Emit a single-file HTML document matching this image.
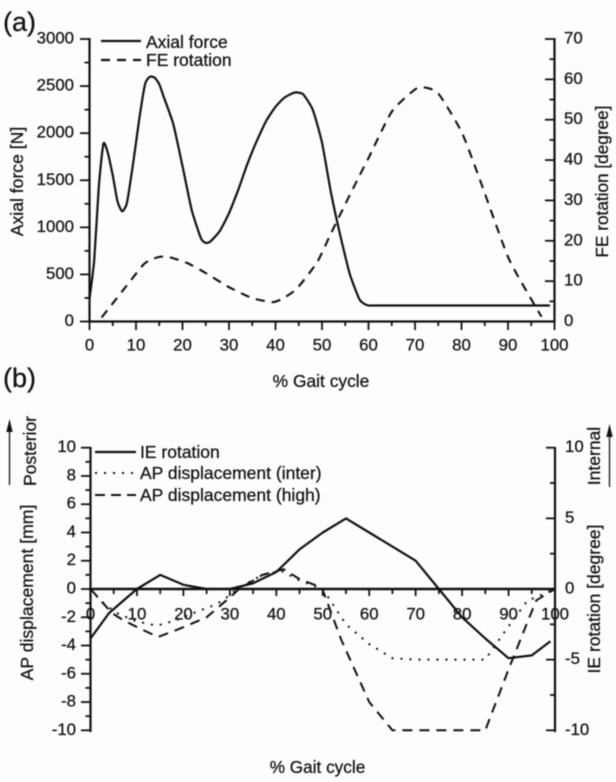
<!DOCTYPE html>
<html>
<head>
<meta charset="utf-8">
<style>
html,body{margin:0;padding:0;background:#fdfdfd;}
svg{display:block;filter:blur(0.4px);}
text{font-family:"Liberation Sans",Arial,sans-serif;fill:#111;stroke:#111;stroke-width:0.25px;}
</style>
</head>
<body>
<svg id="figure" xmlns="http://www.w3.org/2000/svg" width="616" height="782" viewBox="0 0 616 782"></svg>
<script>
// Panel (a) data
const xTickLabelsA = [0,10,20,30,40,50,60,70,80,90,100];
const forceTickLabels = [0,500,1000,1500,2000,2500,3000];
const feTickLabels = [0,10,20,30,40,50,60,70];
const forceX = [0,1,2,3,4,5,6,7,8,9,10,11,12,13,14,15,16,18,20,22,24,25,26,28,30,32,34,36,38,40,42,44,45,46,48,50,52,54,56,58,59,60,61,63,99];
const forceY = [240,650,1430,1890,1780,1550,1280,1170,1250,1550,1900,2250,2530,2600,2590,2520,2380,2100,1650,1180,880,835,850,960,1150,1400,1680,1920,2130,2280,2380,2430,2430,2410,2250,1900,1350,900,500,240,190,170,170,170,170];
const feX = [2.6,5,7.6,11.5,13,15,17,21,25,30,35,39.5,42,44.7,49,52,55.4,58,60,65,70,72,75,80,84,90,95,97.2];
const feY = [1,4.5,8.3,14,15.2,16,16,14.5,12,8.5,5.8,4.8,6,8.3,14.8,22,30,36,40.5,52,57.5,58,56.5,47,35,16,5.5,1.2];
// Panel (b) data
const xTickLabelsB = [0,10,20,30,40,50,60,70,80,90,100];
const apTickLabels = [-10,-8,-6,-4,-2,0,2,4,6,8,10];
const ieTickLabels = [-10,-5,0,5,10];
const ieX = [0,4,10,15,20,25,30,35,40,45,50,55,60,65,70,75,80,85,90,95,99];
const ieY = [-3.5,-1.7,0,1,0.3,0,0,0.4,1.2,2.8,4,5,4,3,2,0,-2,-3.5,-4.9,-4.7,-3.7];
const interX = [0,2.4,5.6,10,14.3,18.5,23,27,28.5,32,37,41,45,50,55,60,65,70,85,89,94,100];
const interY = [0,-0.9,-1.7,-2.3,-2.6,-2.2,-1.6,-1.1,-0.8,0.1,1,1.3,0.6,0,-2.5,-3.9,-4.9,-5,-5,-3.1,-0.85,0];
const highX = [0,4.6,7,10.7,14.5,19.3,25,30,32,37,41.6,45,49.8,54,60,65,85,90,94,96,100];
const highY = [0,-1.7,-2.2,-2.8,-3.4,-2.8,-2,-0.6,0,1,1.4,0.7,0.1,-3.6,-8,-10,-10,-5.7,-2.4,-0.8,0];

const NS = 'http://www.w3.org/2000/svg';
const svg = document.getElementById('figure');
function mk(tag, attrs, txt){
  const e = document.createElementNS(NS, tag);
  for (const k in attrs) e.setAttribute(k, attrs[k]);
  if (txt !== undefined) e.textContent = txt;
  svg.appendChild(e);
  return e;
}
function hline(x1,y1,x2,y2,w){ return mk('line',{x1:x1,y1:y1,x2:x2,y2:y2,stroke:'#111','stroke-width':w}); }
function label(x,y,s,size,anchor,rot){
  const a = {x:x,y:y,'font-size':size,'text-anchor':anchor||'middle','dominant-baseline':'central'};
  if (rot) a.transform = 'rotate('+rot+' '+x+' '+y+')';
  return mk('text',a,s);
}
function series(xs,ys,sx,sy,dash,w){
  const a = {points:xs.map((v,i)=>sx(v).toFixed(1)+','+sy(ys[i]).toFixed(1)).join(' '),fill:'none',stroke:'#111','stroke-width':w,'stroke-linejoin':'round'};
  if (dash) a['stroke-dasharray'] = dash;
  return mk('polyline',a);
}
function smooth(xs,ys,sx,sy,dash,w){
  const p = xs.map((v,i)=>[sx(v),sy(ys[i])]);
  let d = 'M'+p[0][0].toFixed(1)+' '+p[0][1].toFixed(1);
  for (let i=0;i<p.length-1;i++){
    const a=p[Math.max(i-1,0)], b=p[i], c=p[i+1], e=p[Math.min(i+2,p.length-1)];
    const t=0.1;
    d += ' C'+(b[0]+(c[0]-a[0])*t).toFixed(1)+' '+(b[1]+(c[1]-a[1])*t).toFixed(1)+' '+(c[0]-(e[0]-b[0])*t).toFixed(1)+' '+(c[1]-(e[1]-b[1])*t).toFixed(1)+' '+c[0].toFixed(1)+' '+c[1].toFixed(1);
  }
  const at = {d:d,fill:'none',stroke:'#111','stroke-width':w,'stroke-linejoin':'round'};
  if (dash) at['stroke-dasharray'] = dash;
  return mk('path',at);
}
function name(el,n,i){
  
  
  return el;
}

// ---------- Panel (a) ----------
const ax = v => 89.5 + v * 4.65;
const ayF = v => 321.5 - v * (282.5/3000);
const ayE = v => 321.5 - v * (282.5/70);
name(label(3,22,'(a)',27,'start'),'panel-a-label');
name(hline(89.5,38,89.5,322.5,2.2),'a-left-axis');
name(hline(554.5,38,554.5,322.5,2.2),'a-right-axis');
name(hline(88.5,321.5,555.5,321.5,2.2),'a-x-axis');
xTickLabelsA.forEach((v,i)=>{
  name(hline(ax(v),321,ax(v),330,1.8),'a-x-tick');
  name(label(ax(v),345,String(v),16.8),'a-x-tick-label');
  if (i<xTickLabelsA.length-1) name(hline(ax(v+5),321,ax(v+5),326,1.8),'a-x-minor-tick');
});
forceTickLabels.forEach((v,i)=>{
  name(hline(80,ayF(v),90,ayF(v),1.8),'a-left-tick');
  name(label(74,ayF(v)-1,String(v),16.8,'end'),'a-left-tick-label');
  if (i<forceTickLabels.length-1) name(hline(84.5,ayF(v+250),90,ayF(v+250),1.8),'a-left-minor-tick');
});
feTickLabels.forEach((v,i)=>{
  name(hline(545,ayE(v),555,ayE(v),1.8),'a-right-tick');
  name(label(564,ayE(v)-1,String(v),16.8,'start'),'a-right-tick-label');
  if (i<feTickLabels.length-1) name(hline(549.5,ayE(v+5),555,ayE(v+5),1.8),'a-right-minor-tick');
});
name(label(17,181.5,'Axial force [N]',17.6,'middle',-90),'a-left-axis-title');
name(label(602,181.5,'FE rotation [degree]',17.2,'middle',-90),'a-right-axis-title');
name(label(321,381,'% Gait cycle',17.4),'a-x-axis-title');
name(smooth(forceX,forceY,ax,ayF,null,2.2),'axial-force-line');
name(smooth(feX,feY,ax,ayE,'9 7',2.1),'fe-rotation-line');
name(hline(101,41,141,41,2.2),'legend-axial-force-swatch');
name(label(146,42,'Axial force',17.5,'start'),'legend-axial-force-label');
const feSwatch = name(hline(101,60,141,60,2.2),'legend-fe-rotation-swatch');
feSwatch.setAttribute('stroke-dasharray','9 7');
name(label(146,60,'FE rotation',17.5,'start'),'legend-fe-rotation-label');

// ---------- Panel (b) ----------
const bx = v => 90.5 + v * 4.645;
const by = v => 589 - v * 14.13;
name(label(3,378,'(b)',27,'start'),'panel-b-label');
name(hline(90.5,447,90.5,732,2.2),'b-left-axis');
name(hline(555,447,555,732,2.2),'b-right-axis');
name(hline(89,589,556,589,2.4),'b-x-axis');
xTickLabelsB.forEach((v,i)=>{
  name(hline(bx(v),589,bx(v),596,1.8),'b-x-tick');
  name(label(bx(v),614,String(v),16.8),'b-x-tick-label');
  if (i<xTickLabelsB.length-1) name(hline(bx(v+5),589,bx(v+5),594,1.8),'b-x-minor-tick');
});
apTickLabels.forEach((v,i)=>{
  name(hline(81,by(v),91,by(v),1.8),'b-left-tick');
  name(label(76,by(v)-1,String(v),16.8,'end'),'b-left-tick-label');
  if (i<apTickLabels.length-1) name(hline(85.5,by(v+1),91,by(v+1),1.8),'b-left-minor-tick');
});
ieTickLabels.forEach((v,i)=>{
  name(hline(546,by(v),555,by(v),1.8),'b-right-tick');
  name(label(565,by(v)-1,String(v),16.8,'start'),'b-right-tick-label');
  if (i<ieTickLabels.length-1) name(hline(550,by(v+2.5),555,by(v+2.5),1.8),'b-right-minor-tick');
});
name(label(27,592.5,'AP displacement [mm]',17.6,'middle',-90),'b-left-axis-title');
name(label(30,451,'Posterior',17.5,'middle',-90),'posterior-label');
name(label(594,599,'IE rotation [degree]',17.5,'middle',-90),'b-right-axis-title');
name(label(594,456,'Internal',17.5,'middle',-90),'internal-label');
name(label(317.5,767,'% Gait cycle',17.2),'b-x-axis-title');
name(hline(9.5,485,9.5,428,1.3),'posterior-arrow-shaft');
name(mk('polygon',{points:'9.5,419 6.3,432 12.7,432',fill:'#111'}),'posterior-arrow-head');
name(hline(609.5,487,609.5,433,1.3),'internal-arrow-shaft');
name(mk('polygon',{points:'609.5,424 606.3,437 612.7,437',fill:'#111'}),'internal-arrow-head');
name(series(ieX,ieY,bx,by,null,2.2),'ie-rotation-line');
name(series(interX,interY,bx,by,'2 7',2),'ap-displacement-inter-line');
name(series(highX,highY,bx,by,'10 7',2),'ap-displacement-high-line');
name(hline(95,452,136,452,2.2),'legend-ie-rotation-swatch');
name(label(140,452,'IE rotation',17.5,'start'),'legend-ie-rotation-label');
const interSwatch = name(hline(95,473,136,473,2),'legend-ap-inter-swatch');
interSwatch.setAttribute('stroke-dasharray','2 7');
name(label(140,473,'AP displacement (inter)',17.5,'start'),'legend-ap-inter-label');
const highSwatch = name(hline(95,495,136,495,2),'legend-ap-high-swatch');
highSwatch.setAttribute('stroke-dasharray','10 6');
name(label(140,495,'AP displacement (high)',17.5,'start'),'legend-ap-high-label');
</script>
</body>
</html>
